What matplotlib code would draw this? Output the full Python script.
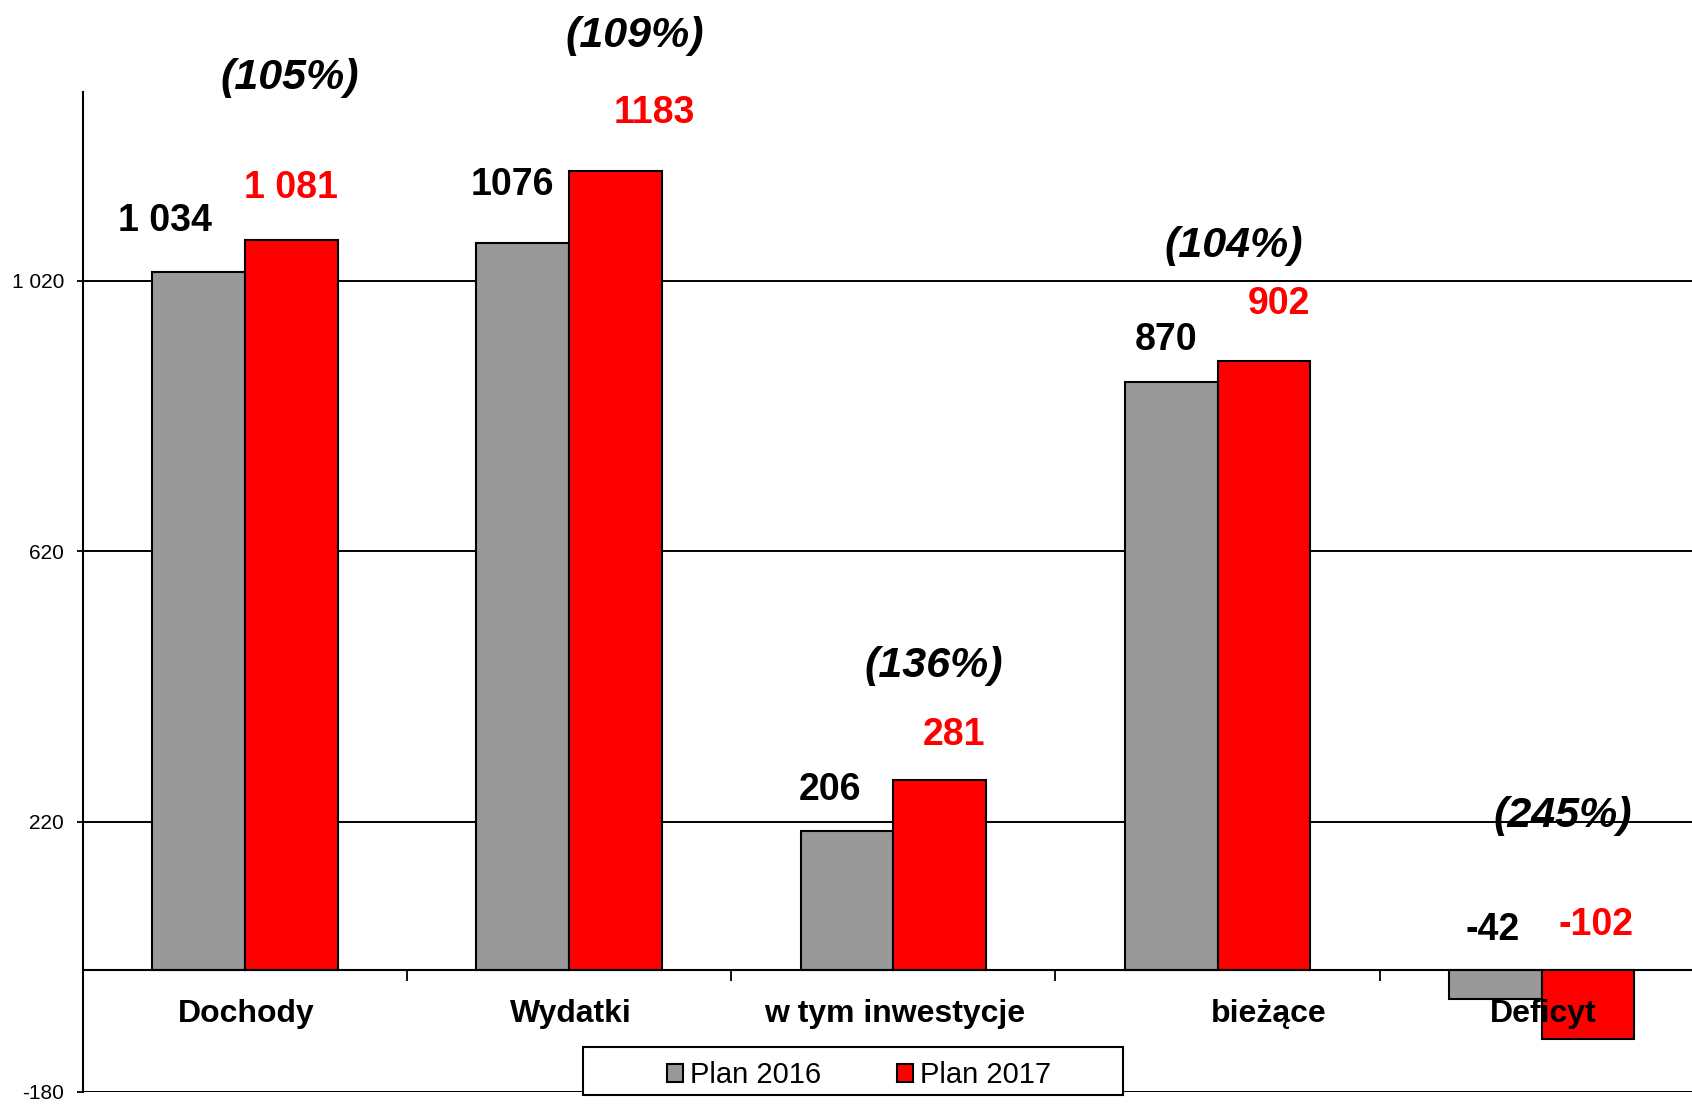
import matplotlib.pyplot as plt
from matplotlib.patches import Rectangle
import numpy as np

plt.rcParams['font.family'] = ['Liberation Sans', 'DejaVu Sans']

categories = ['Dochody', 'Wydatki', 'w tym inwestycje', 'bieżące', 'Deficyt']
plan_2016 = [1034, 1076, 206, 870, -42]
plan_2017 = [1081, 1183, 281, 902, -102]
labels_2016 = ['1 034', '1076', '206', '870', '-42']
labels_2017 = ['1 081', '1183', '281', '902', '-102']
pct_labels = ['(105%)', '(109%)', '(136%)', '(104%)', '(245%)']
y_ticks = [-180, 220, 620, 1020]

# label placement (x offset from category centre, y in data units)
lab16_dx = [-0.248, -0.174, -0.194, -0.158, -0.151]
lab16_y = [1109, 1162, 267, 933, 59]
lab17_dx = [0.142, 0.262, 0.188, 0.188, 0.168]
lab17_y = [1157, 1269, 348, 986, 67]
pct_dx = [0.139, 0.202, 0.125, 0.049, 0.065]
pct_y = [1320, 1382, 450, 1072, 229]
cat_dx = [0.004, 0.004, 0.004, 0.157, 0.004]

GRAY = '#999999'
RED = '#ff0000'

fig = plt.figure(figsize=(16.92, 11.04), dpi=100)
ax = fig.add_axes([0.049, 0.0109, 0.958, 0.906])

x = np.arange(len(categories))
w = 0.286
b1 = ax.bar(x - w/2, plan_2016, w, color=GRAY, edgecolor='black', linewidth=1.5, zorder=3, label='Plan 2016')
b2 = ax.bar(x + w/2, plan_2017, w, color=RED, edgecolor='black', linewidth=1.5, zorder=3, label='Plan 2017')

ax.set_xlim(-0.5, len(categories) - 0.5)
ax.set_ylim(-180, 1300)

ax.set_yticks(y_ticks)
ax.set_yticklabels([f'{v:,}'.replace(',', ' ') for v in y_ticks], fontsize=15)
ax.yaxis.grid(True, color='black', linewidth=1.4)
ax.set_axisbelow(True)
ax.tick_params(axis='y', direction='out', length=4.5, width=1.3, pad=9)

ax.spines['top'].set_visible(False)
ax.spines['right'].set_visible(False)
ax.spines['left'].set_linewidth(1.5)
ax.spines['bottom'].set_position(('data', 0))
ax.spines['bottom'].set_linewidth(1.5)
ax.spines['bottom'].set_zorder(4)
ax.set_xticks(x[:-1] + 0.5)
ax.set_xticklabels([])
ax.tick_params(axis='x', direction='out', length=8, width=1.3)

for i in range(len(categories)):
    ax.text(i + cat_dx[i], -65, categories[i], ha='center', va='center',
            fontsize=23, fontweight='bold', zorder=5)
    ax.text(i + lab16_dx[i], lab16_y[i], labels_2016[i], ha='center', va='center',
            fontsize=27, fontweight='bold', color='black', zorder=5)
    ax.text(i + lab17_dx[i], lab17_y[i], labels_2017[i], ha='center', va='center',
            fontsize=27, fontweight='bold', color=RED, zorder=5)
    ax.text(i + pct_dx[i], pct_y[i], pct_labels[i], ha='center', va='center',
            fontsize=31, fontweight='bold', fontstyle='italic', zorder=5, clip_on=False)

# legend box
fig.patches.append(Rectangle((0.3446, 0.008), 0.319, 0.0435, transform=fig.transFigure,
                             facecolor='white', edgecolor='black', linewidth=1.5, zorder=4))
leg = fig.legend(handles=[b1, b2], labels=['Plan 2016', 'Plan 2017'], loc='center',
                 bbox_to_anchor=(0.5077, 0.026), ncol=2, frameon=False, fontsize=21,
                 handlelength=0.55, handleheight=0.55, handletextpad=0.25, columnspacing=2.6)
leg.set_zorder(5)

fig.savefig('out.png', dpi=100)
